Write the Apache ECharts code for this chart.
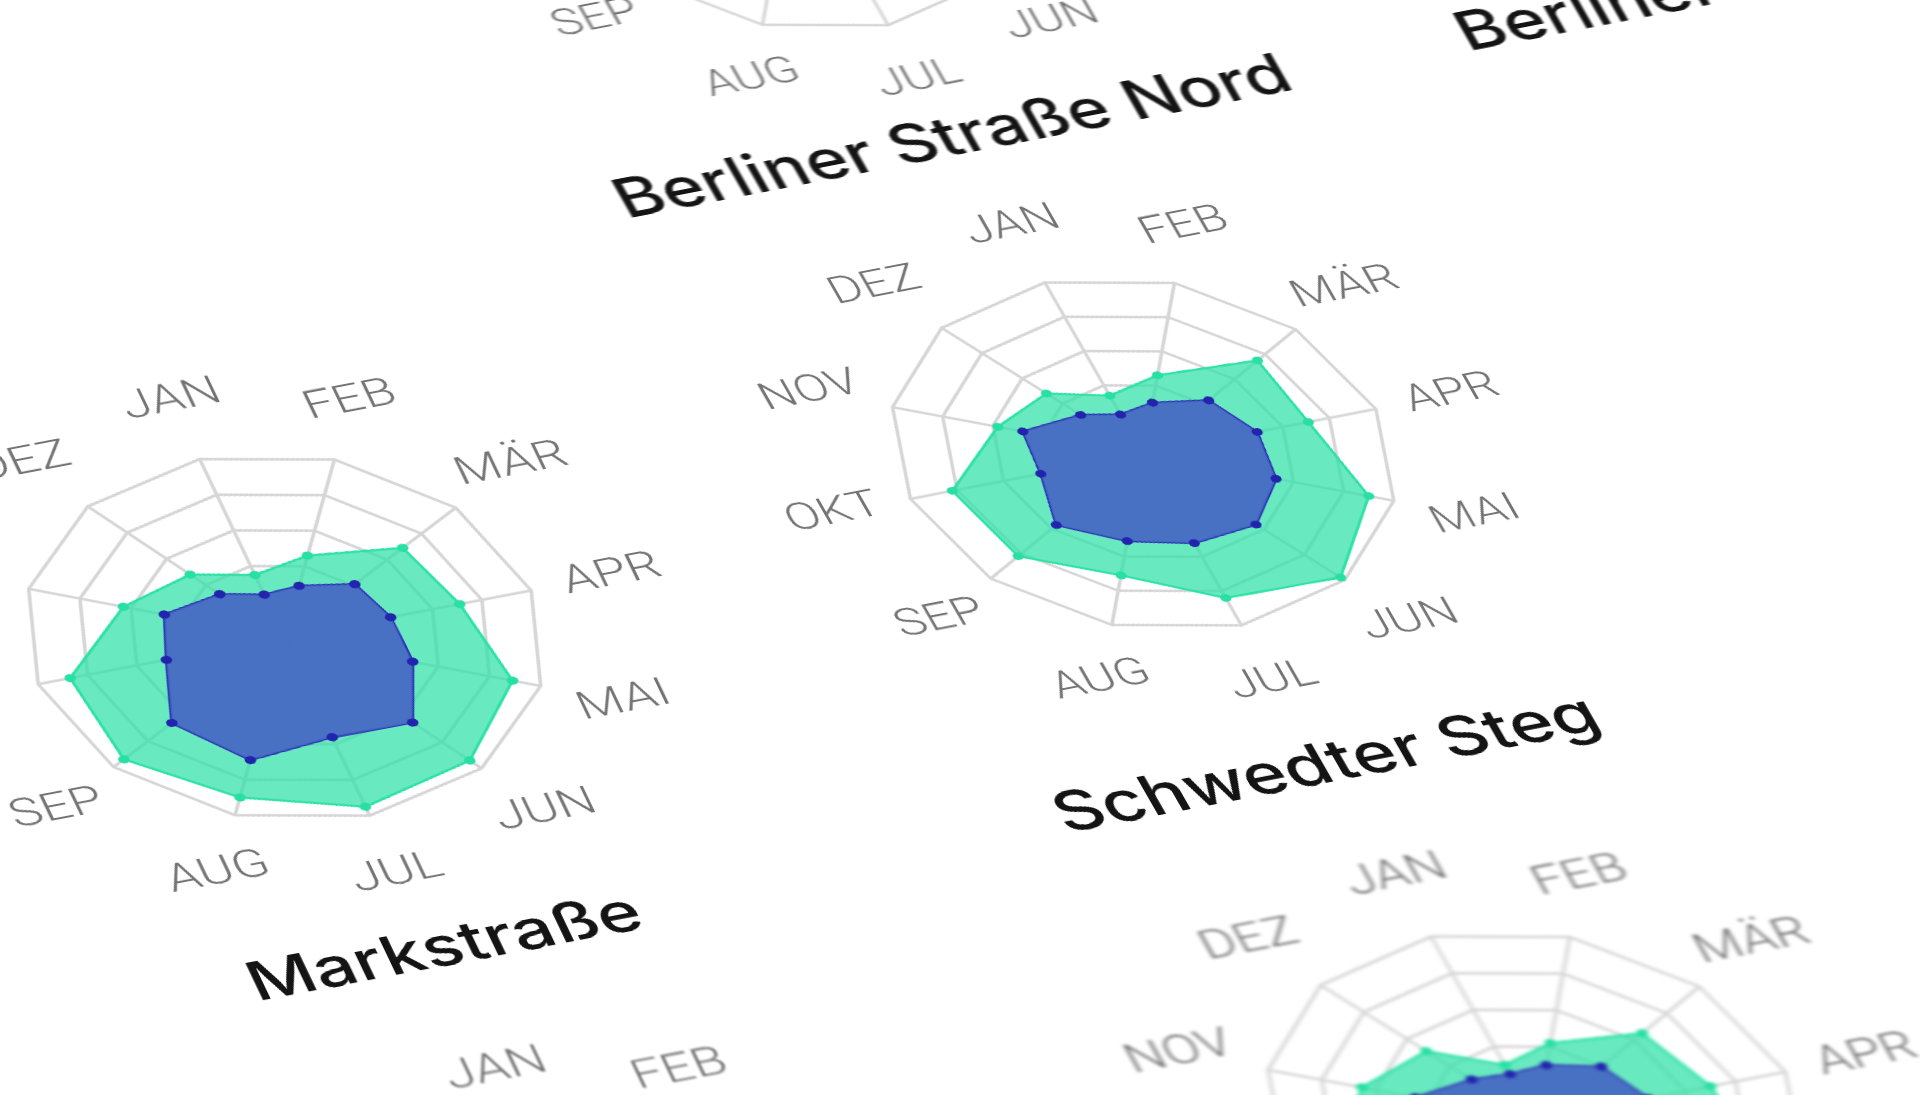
<!DOCTYPE html>
<html>
<head>
<meta charset="utf-8">
<title>Messstellen Radar</title>
<script src="https://cdn.jsdelivr.net/npm/echarts@6.0.0/dist/echarts.min.js"></script>
<style>
html,body{margin:0;padding:0;width:1920px;height:1095px;overflow:hidden;background:#fff;}
/* schraeg fotografierte Seite: Drehung + Stauchung */
#page{position:absolute;left:0;top:0;width:2700px;height:2900px;transform-origin:0 0;
  transform:matrix(0.9308,-0.1799,0.3931,0.6858,-529.6,-202.4);}
.cell{position:absolute;width:1000px;height:960px;transform-origin:500px 420px;}
</style>
</head>
<body>
<div id="page"></div>
<script>
// Monate
var months = ['JAN','FEB','MÄR','APR','MAI','JUN','JUL','AUG','SEP','OKT','NOV','DEZ'];

// Messstellen
var names = ['Berliner Straße Nord','Berliner Straße Süd','Markstraße','Schwedter Steg','Bahnhofstraße','Lindenallee'];

// Werte je Messstelle (gruen = aussen, blau = innen)
var nordGreen = [38, 47, 70, 72, 80, 78, 72, 70, 75, 80, 60, 47];
var nordBlue  = [25, 30, 42, 46, 50, 52, 50, 50, 52, 46, 46, 32];
var suedGreen = [36, 45, 66, 70, 86, 92, 90, 84, 86, 80, 62, 46];
var suedBlue  = [24, 29, 40, 45, 50, 58, 54, 58, 58, 45, 45, 31];
var markGreen = [35, 46, 69, 71, 89, 94, 95, 90, 94, 87, 63, 48];
var markBlue  = [24, 29, 41, 43, 50, 65, 56, 69, 66, 48, 47, 33];
var schwGreen = [34, 46, 75, 71, 90, 98, 84, 71, 82, 82, 58, 48];
var schwBlue  = [23, 30, 43, 49, 53, 56, 52, 51, 57, 44, 48, 31];
var bahnGreen = [36, 47, 68, 72, 88, 92, 92, 88, 90, 84, 62, 47];
var bahnBlue  = [25, 30, 41, 45, 51, 62, 56, 64, 62, 47, 46, 32];
var lindGreen = [30, 42, 65, 70, 85, 90, 88, 80, 85, 80, 65, 51];
var lindBlue  = [25, 30, 40, 45, 50, 55, 55, 55, 55, 45, 45, 30];

// echarts legt die achsen gegen den uhrzeigersinn an -> umsortieren
var order = [0, 11, 10, 9, 8, 7, 6, 5, 4, 3, 2, 1];
function ccw(arr){
    return order.map(function(i){ return arr[i]; });
}

// links im bild ist die perspektive weniger schief
var flat = [1, 0, 0, 1];
var leftSkew = [1.017, 0.004, -0.064, 0.983];

// lage der einzelnen diagramme auf der seite (ty = abstand titel)
var cells = [
    {name: names[0], green: nordGreen, blue: nordBlue, x: 845,  y: 16,   s: 0.97, m: flat,     blur: 0.9, dx: 0,  ty: 840, fs: 76},
    {name: names[1], green: suedGreen, blue: suedBlue, x: 1734, y: -24,  s: 0.97, m: flat,     blur: 1.0, dx: 0,  ty: 875, fs: 76},
    {name: names[2], green: markGreen, blue: markBlue, x: -78,  y: 909,  s: 1.04, m: leftSkew, blur: 0.7, dx: 11, ty: 860, fs: 72},
    {name: names[3], green: schwGreen, blue: schwBlue, x: 854,  y: 886,  s: 1.0,  m: flat,     blur: 0.7, dx: 5,  ty: 875, fs: 76},
    {name: names[4], green: bahnGreen, blue: bahnBlue, x: -136, y: 1880, s: 1.07, m: leftSkew, blur: 1.0, dx: 11, ty: 860, fs: 72},
    {name: names[5], green: lindGreen, blue: lindBlue, x: 865,  y: 1860, s: 1.07, m: flat,     blur: 2.2, dx: 0,  ty: 875, fs: 76}
];

var page = document.getElementById('page');

cells.forEach(function(c){
    var div = document.createElement('div');
    div.className = 'cell';
    div.style.left = (c.x + 400 - 500) + 'px';
    div.style.top = (c.y + 400 - 420) + 'px';
    div.style.transform = 'matrix(' + [c.m[0]*c.s, c.m[1]*c.s, c.m[2]*c.s, c.m[3]*c.s, 0, 0].join(',') + ')';
    div.style.filter = 'blur(' + c.blur + 'px)';
    page.appendChild(div);

    var chart = echarts.init(div, null, {width: 1000, height: 960, devicePixelRatio: 2});

    chart.setOption({
        animation: false,
        radar: {
            center: [500, 420],
            radius: 250,
            startAngle: 90,
            splitNumber: 5,
            shape: 'polygon',
            indicator: ccw(months).map(function(m){ return {name: m, max: 100}; }),
            nameGap: 82,
            axisName: {
                color: '#747474',
                fontSize: 52,
                fontFamily: 'Roboto',
                fontWeight: 300,
                align: 'center',
                verticalAlign: 'middle'
            },
            axisLine: {lineStyle: {color: '#d6d6d6', width: 3.5}},
            splitLine: {lineStyle: {color: '#d6d6d6', width: 3.5}},
            splitArea: {show: false},
            axisTick: {show: false},
            axisLabel: {show: false}
        },
        series: [{
            type: 'radar',
            symbol: 'circle',
            symbolSize: 11,
            data: [
                {
                    value: ccw(c.green),
                    itemStyle: {color: '#28e0a4'},
                    lineStyle: {color: '#2ee2a8', width: 3},
                    areaStyle: {color: '#2ee0a6', opacity: 0.72}
                },
                {
                    value: ccw(c.blue),
                    itemStyle: {color: '#2224ad'},
                    lineStyle: {color: '#2a30b4', width: 3},
                    areaStyle: {color: '#4766c4', opacity: 0.92}
                }
            ]
        }],
        graphic: [{
            type: 'text',
            x: 500 + c.dx,
            y: c.ty,
            style: {
                text: c.name,
                fill: '#141414',
                font: '500 ' + c.fs + 'px Inter',
                textAlign: 'center',
                textVerticalAlign: 'middle'
            }
        }]
    });
});
</script>
</body>
</html>
